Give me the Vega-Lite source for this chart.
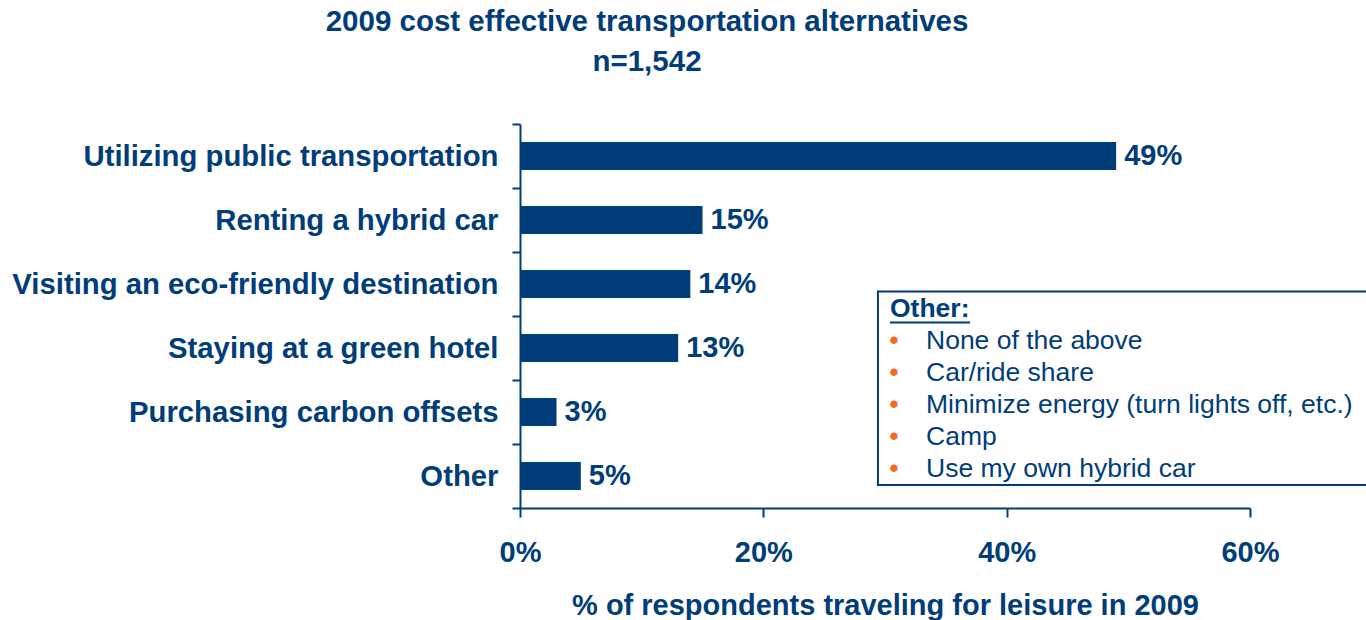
{
  "$schema": "https://vega.github.io/schema/vega-lite/v6.json",
  "width": 730,
  "height": 384,
  "autosize": "none",
  "padding": {"left": 520, "top": 124, "right": 116, "bottom": 112},
  "background": "white",
  "title": {
    "text": ["2009 cost effective transportation alternatives", "n=1,542"],
    "font": "Liberation Sans",
    "fontSize": 29.5,
    "fontWeight": "bold",
    "color": "#003D79",
    "anchor": "middle",
    "dx": -238,
    "offset": 33,
    "lineHeight": 40
  },
  "config": {"view": {"stroke": null}},
  "layer": [
    {
      "data": {
        "values": [
          {"category": "Utilizing public transportation", "pct": 49, "label": "49%"},
          {"category": "Renting a hybrid car", "pct": 15, "label": "15%"},
          {"category": "Visiting an eco-friendly destination", "pct": 14, "label": "14%"},
          {"category": "Staying at a green hotel", "pct": 13, "label": "13%"},
          {"category": "Purchasing carbon offsets", "pct": 3, "label": "3%"},
          {"category": "Other", "pct": 5, "label": "5%"}
        ]
      },
      "encoding": {
        "y": {
          "field": "category",
          "type": "nominal",
          "sort": null,
          "scale": {"paddingInner": 0, "paddingOuter": 0},
          "axis": {
            "title": null,
            "tickBand": "extent",
            "tickSize": 8,
            "tickColor": "#003D79",
            "tickWidth": 2,
            "domainColor": "#003D79",
            "domainWidth": 2,
            "labelFont": "Liberation Sans",
            "labelFontSize": 29.3,
            "labelFontWeight": "bold",
            "labelColor": "#003D79",
            "labelPadding": 14,
            "labelLimit": 700
          }
        },
        "x": {
          "field": "pct",
          "type": "quantitative",
          "scale": {"domain": [0, 60], "nice": false},
          "axis": {
            "title": "% of respondents traveling for leisure in 2009",
            "values": [0, 20, 40, 60],
            "format": ".0f",
            "labelExpr": "datum.label + '%'",
            "grid": false,
            "tickSize": 9,
            "tickColor": "#003D79",
            "tickWidth": 2,
            "domainColor": "#003D79",
            "domainWidth": 2,
            "labelFont": "Liberation Sans",
            "labelFontSize": 29,
            "labelFontWeight": "bold",
            "labelColor": "#003D79",
            "labelPadding": 21,
            "labelFlush": false,
            "labelOverlap": false,
            "titleFont": "Liberation Sans",
            "titleFontSize": 29,
            "titleFontWeight": "bold",
            "titleColor": "#003D79",
            "titlePadding": 24
          }
        }
      },
      "layer": [
        {"mark": {"type": "bar", "color": "#003D79", "height": {"band": 0.44}}},
        {
          "mark": {"type": "text", "align": "left", "baseline": "middle", "dx": 8, "font": "Liberation Sans", "fontSize": 29, "fontWeight": "bold", "color": "#003D79"},
          "encoding": {"text": {"field": "label"}}
        }
      ]
    },
    {
      "layer": [
        {
          "data": {"values": [{"x1": 29.42, "x2": 70, "y1": 2.617, "y2": 5.64}]},
          "mark": {"type": "rect", "fill": "white", "stroke": "#003D79", "strokeWidth": 2},
          "encoding": {
            "x": {"field": "x1", "type": "quantitative", "scale": {"domain": [0, 60], "nice": false}, "axis": null},
            "x2": {"field": "x2"},
            "y": {"field": "y1", "type": "quantitative", "scale": {"domain": [0, 6], "reverse": true, "nice": false, "zero": false}, "axis": null},
            "y2": {"field": "y2"}
          }
        },
        {
          "data": {"values": [{"x": 30.41, "y": 2.89, "label": "Other:"}]},
          "mark": {"type": "text", "align": "left", "baseline": "middle", "font": "Liberation Sans", "fontSize": 26.5, "fontWeight": "bold", "color": "#003D79"},
          "encoding": {
            "x": {"field": "x", "type": "quantitative", "axis": null},
            "y": {"field": "y", "type": "quantitative", "axis": null},
            "text": {"field": "label"}
          }
        },
        {
          "data": {"values": [{"x1": 30.41, "x2": 36.99, "y": 3.1}]},
          "mark": {"type": "rule", "color": "#003D79", "strokeWidth": 2},
          "encoding": {
            "x": {"field": "x1", "type": "quantitative", "axis": null},
            "x2": {"field": "x2"},
            "y": {"field": "y", "type": "quantitative", "axis": null}
          }
        },
        {
          "data": {
            "values": [
              {"y": 3.39, "label": "None of the above"},
              {"y": 3.89, "label": "Car/ride share"},
              {"y": 4.39, "label": "Minimize energy (turn lights off, etc.)"},
              {"y": 4.89, "label": "Camp"},
              {"y": 5.39, "label": "Use my own hybrid car"}
            ]
          },
          "layer": [
            {
              "mark": {"type": "text", "align": "center", "baseline": "middle", "font": "Liberation Sans", "fontSize": 27, "color": "#F07020", "text": "•"},
              "encoding": {
                "x": {"datum": 30.74, "type": "quantitative", "axis": null},
                "y": {"field": "y", "type": "quantitative", "axis": null}
              }
            },
            {
              "mark": {"type": "text", "align": "left", "baseline": "middle", "font": "Liberation Sans", "fontSize": 26.5, "color": "#003D79"},
              "encoding": {
                "x": {"datum": 33.37, "type": "quantitative", "axis": null},
                "y": {"field": "y", "type": "quantitative", "axis": null},
                "text": {"field": "label"}
              }
            }
          ]
        }
      ]
    }
  ],
  "resolve": {"scale": {"y": "independent", "x": "independent"}}
}
